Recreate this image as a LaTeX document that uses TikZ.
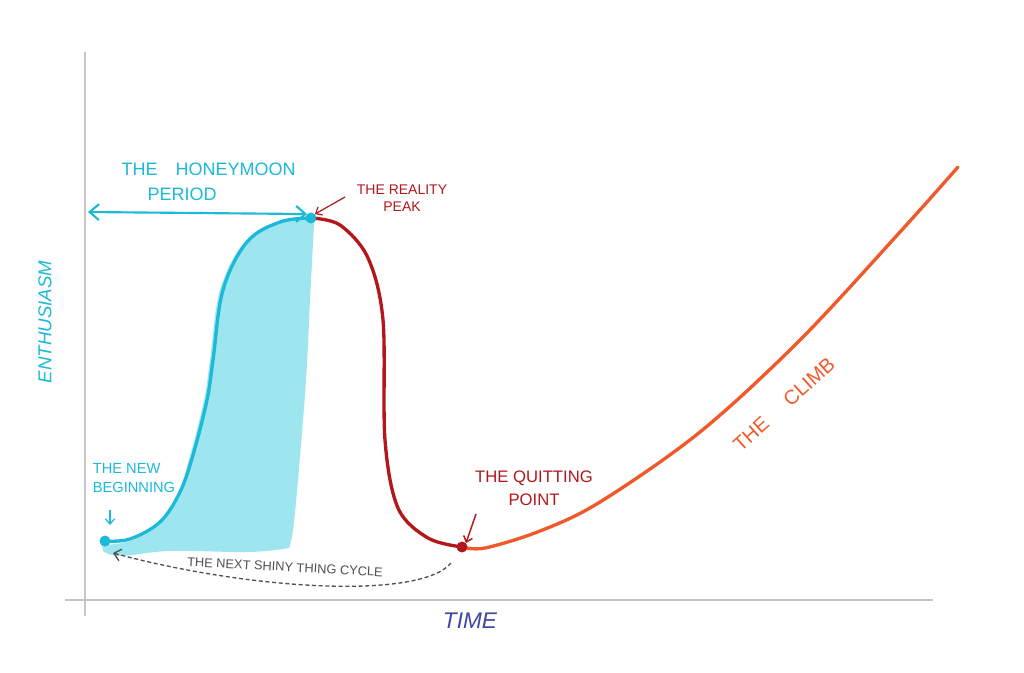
\documentclass[tikz,border=0pt]{standalone}
\usepackage{fontspec}
\setmainfont{Liberation Sans}
\usetikzlibrary{arrows.meta}
\definecolor{cyanc}{HTML}{1CB9D9}
\definecolor{cyanfill}{HTML}{9DE6EF}
\definecolor{redc}{HTML}{B3171C}
\definecolor{orangec}{HTML}{F05A2A}
\definecolor{timec}{HTML}{3E48A2}
\definecolor{axisc}{HTML}{C8C4C0}
\definecolor{cyclec}{HTML}{505050}
\tikzset{
  lbl/.style={font=\fontsize{10}{11}\selectfont, align=center, inner sep=1pt},
  curve/.style={line width=2.5pt, line cap=round, line join=round},
  dot/.style={circle, inner sep=0pt, minimum size=8pt},
  smallarrow/.style={-{Straight Barb[length=4pt,width=7pt]}, line width=0.9pt},
  climbtext/.style={lbl, orangec, rotate=42, font=\fontsize{15}{18}\selectfont},
}
\begin{document}
\begin{tikzpicture}[x=0.75pt,y=-0.75pt]
\useasboundingbox (0,0) rectangle (1024,672);
\fill[white] (0,0) rectangle (1024,672);
% axes
\draw[axisc, line width=1.4pt] (85,52) -- (85,616);
\draw[axisc, line width=1.4pt] (65,600) -- (933,600);
% fill region
\fill[cyanfill] plot[smooth, tension=0.6] coordinates {(102,545) (130,541) (160,524) (178,494) (190,456) (204,400) (210,360) (220,290) (245,242) (280,222) (311,218)}
  -- (314,224) -- plot[smooth, tension=0.6] coordinates {(314,224) (310,300) (306,380) (298,480) (293,530) (289,548)}
  -- plot[smooth, tension=0.6] coordinates {(289,548) (250,552) (170,551) (120,556) (103,551)} -- cycle;
% nodes
\node[dot, fill=cyanc] (nb) at (105,541) {};
\node[dot, fill=cyanc] (peak) at (311,218) {};
\node[dot, fill=redc] (quit) at (462,547) {};
% curves
\draw[curve, cyanc] plot[smooth, tension=0.6] coordinates {(105,541) (130,539) (160,522) (180,492) (193,455) (207,400) (213,360) (223,290) (247,242) (280,222) (311,218)};
\draw[curve, redc] plot[smooth, tension=0.55] coordinates {(311,218) (340,225) (368,258) (383,320) (385,440) (398,508) (428,538) (462,547)};
\draw[curve, orangec] plot[smooth, tension=0.55] coordinates {(462,547) (485,548) (540,531) (600,502) (700,432) (800,340) (900,232) (958,167)};
% redraw dots on top
\node[dot, fill=cyanc] at (nb) {};
\node[dot, fill=cyanc] at (peak) {};
\node[dot, fill=redc] at (quit) {};
% honeymoon arrow
\coordinate (hmleft) at (88,212);
\draw[cyanc, line width=1.6pt, {Straight Barb[length=7pt,width=12pt]}-{Straight Barb[length=7pt,width=12pt]}] (hmleft) -- (peak.north west);
\node[lbl, cyanc, font=\fontsize{13.5}{16}\selectfont, anchor=west] (hm) at (120,169) {THE\quad HONEYMOON};
\node[lbl, cyanc, font=\fontsize{13.5}{16}\selectfont, anchor=west] (hm2) at (146,194) {PERIOD};
% reality peak
\node[lbl, redc, font=\fontsize{10.5}{12.5}\selectfont] (rp) at (402,198) {THE REALITY\\PEAK};
\coordinate (rpa) at (345,197);
\draw[smallarrow, redc] (rpa) -- (peak.north east);
% new beginning
\node[lbl, cyanc, font=\fontsize{11}{14}\selectfont, align=left] (nbl) at (134,478) {THE NEW\\BEGINNING};
\coordinate (nba) at (110,510);
\draw[smallarrow, cyanc] (nba) -- (110,525);
% quitting point
\node[lbl, redc, font=\fontsize{12.5}{17}\selectfont] (qp) at (534,488) {THE QUITTING\\POINT};
\coordinate (qpa) at (476,514);
\draw[smallarrow, redc, line width=1.1pt] (qpa) -- (quit.north east);
% next shiny thing cycle
\coordinate (cyst) at (451,563);
\draw[cyclec, line width=1pt, dash pattern=on 3pt off 2pt, -{Straight Barb[length=5pt,width=9pt]}] (cyst) .. controls (420,600) and (250,590) .. (113,553);
\node[lbl, cyclec, rotate=-3, font=\fontsize{9.6}{10}\selectfont] (cy) at (285,567) {THE NEXT SHINY THING CYCLE};
% axis labels
\node[lbl, timec, font=\fontsize{17}{20}\selectfont\itshape] (time) at (470,621) {TIME};
\node[lbl, cyanc, rotate=90, font=\fontsize{14}{16}\selectfont\itshape] (ent) at (45,322) {ENTHUSIASM};
\node[climbtext] (climb1) at (751,434) {THE};
\node[climbtext] (climb2) at (809,382) {CLIMB};
\end{tikzpicture}
\end{document}
